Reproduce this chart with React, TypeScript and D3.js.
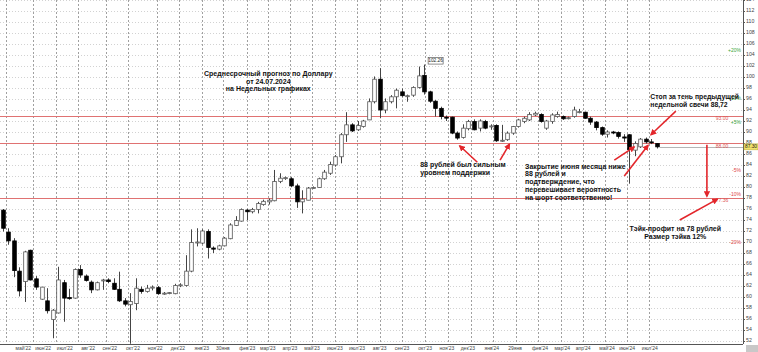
import * as d3 from "d3";

// weekly USD/RUB candles (oldest first)
const opens = [
  75.8, 71.8, 70.2, 64.7, 62.8, 68.5, 63.3, 59.6, 59.3, 55.9,
  57.1, 62.6, 59.9, 59.8, 65.0, 63.8, 62.7, 61.3, 63.0, 63.1,
  62.5, 61.4, 59.3, 58.6, 58.8, 61.4, 61.0, 61.7, 61.7, 60.6,
  60.7, 60.6, 62.1, 62.1, 64.7, 69.9, 69.8, 71.9, 68.9, 68.7,
  69.3, 70.6, 73.0, 73.8, 75.8, 75.5, 75.9, 76.8, 77.3, 77.5,
  81.0, 81.6, 81.5, 80.2, 77.3, 77.6, 79.8, 79.9, 81.5, 82.5,
  84.0, 85.5, 89.5, 91.3, 90.4, 91.0, 92.2, 95.5, 99.6, 94.0,
  95.5, 96.4, 97.3, 96.6, 96.7, 98.1, 100.3, 97.3, 95.6, 94.3,
  92.7, 92.7, 89.8, 89.0, 90.6, 91.9, 90.7, 91.9, 91.0, 91.2,
  88.4, 88.6, 89.8, 91.0, 91.9, 92.2, 93.1, 93.2, 90.7, 91.9,
  92.8, 92.8, 92.6, 92.8, 93.7, 93.6, 92.5, 91.8, 90.8, 89.6,
  90.0, 89.9, 89.1, 89.5, 86.7, 87.3, 88.7, 88.2, 87.9,
];
const highs = [
  76.0, 72.5, 70.7, 65.4, 68.4, 68.6, 63.8, 61.8, 61.6, 57.8,
  65.5, 63.1, 61.5, 65.2, 65.8, 64.1, 63.0, 62.8, 63.3, 63.4,
  63.4, 64.6, 59.8, 60.7, 63.4, 61.9, 62.2, 62.1, 62.0, 60.9,
  60.9, 62.4, 62.5, 67.6, 72.3, 72.5, 72.3, 72.3, 69.2, 69.5,
  70.9, 73.4, 74.7, 76.1, 76.0, 76.2, 77.3, 77.7, 77.9, 83.1,
  82.5, 81.9, 81.8, 80.6, 79.4, 80.0, 80.1, 81.7, 83.1, 84.6,
  85.8, 89.8, 93.6, 91.6, 92.0, 92.2, 96.1, 100.1, 101.6, 96.1,
  96.7, 97.9, 97.9, 96.8, 98.3, 101.9, 102.26, 97.5, 95.8, 94.6,
  93.0, 92.8, 90.1, 91.4, 92.2, 92.3, 92.3, 92.2, 91.4, 91.4,
  91.3, 90.1, 91.1, 92.4, 92.8, 93.6, 93.7, 93.4, 92.2, 93.4,
  93.7, 93.0, 92.8, 94.6, 94.2, 93.7, 92.8, 92.0, 91.0, 90.3,
  90.2, 90.1, 89.6, 89.6, 88.3, 88.9, 89.0, 88.72, 88.0,
];
const lows = [
  71.9, 69.5, 63.6, 60.1, 59.1, 63.0, 61.3, 59.5, 57.0, 52.5,
  57.0, 55.5, 59.5, 59.7, 63.5, 62.8, 60.7, 61.2, 61.3, 62.5,
  61.3, 59.1, 58.3, 51.5, 57.6, 60.6, 60.8, 61.2, 60.4, 60.4,
  60.5, 60.5, 61.8, 61.9, 64.5, 69.2, 69.6, 67.0, 68.0, 68.5,
  69.2, 70.5, 72.9, 73.7, 74.0, 75.2, 75.2, 76.6, 76.8, 77.4,
  80.7, 81.3, 80.0, 76.2, 75.2, 77.6, 79.7, 79.9, 81.3, 82.2,
  83.7, 84.3, 88.2, 90.0, 90.2, 90.8, 92.2, 95.2, 92.5, 93.4,
  95.2, 94.3, 96.4, 95.5, 96.4, 97.9, 96.8, 95.3, 92.8, 92.3,
  92.0, 89.6, 88.6, 88.8, 90.3, 90.3, 90.1, 90.5, 90.4, 88.2,
  88.2, 88.4, 89.5, 90.8, 91.6, 92.0, 92.9, 91.7, 90.4, 91.5,
  92.6, 92.2, 92.3, 92.6, 93.4, 92.4, 91.3, 90.3, 89.3, 89.0,
  89.6, 88.8, 88.2, 80.6, 85.6, 87.1, 87.9, 87.8, 87.0,
];
const closes = [
  72.5, 70.2, 64.8, 61.1, 68.2, 63.1, 61.8, 61.8, 57.5, 57.6,
  63.1, 59.8, 59.7, 65.0, 64.0, 63.0, 61.3, 62.6, 63.1, 62.8,
  61.4, 59.3, 58.7, 59.2, 61.6, 61.0, 61.6, 61.8, 60.6, 60.7,
  60.8, 62.1, 62.2, 64.7, 69.9, 70.0, 72.0, 69.0, 68.7, 69.3,
  70.7, 73.1, 73.9, 75.9, 75.5, 75.9, 77.0, 77.4, 77.6, 81.0,
  81.6, 81.7, 80.2, 77.3, 77.8, 79.8, 79.9, 81.5, 82.7, 84.1,
  85.5, 89.5, 91.3, 90.2, 91.2, 92.0, 95.5, 99.6, 94.0, 95.5,
  96.4, 97.6, 96.6, 96.6, 98.1, 100.2, 97.3, 95.6, 94.3, 92.8,
  92.6, 89.8, 88.9, 90.7, 91.9, 90.4, 92.0, 90.7, 91.1, 88.4,
  88.5, 89.8, 91.0, 92.2, 92.5, 93.2, 93.4, 91.9, 92.0, 93.1,
  93.2, 92.4, 92.6, 94.0, 93.7, 92.5, 91.8, 90.8, 89.6, 90.0,
  89.9, 89.2, 88.9, 86.8, 87.9, 88.7, 88.2, 88.1, 87.3,
];

// bottom axis labels and their candle positions
const timeLabels = [
  "май'22", "июн'22", "июл'22", "авг'22", "сен'22", "окт'22", "ноя'22", "дек'22",
  "янв'23", "30янв", "фев'23", "мар'23", "апр'23", "май'23", "июн'23", "июл'23",
  "авг'23", "сен'23", "окт'23", "ноя'23", "дек'23", "янв'24", "29янв", "фев'24",
  "мар'24", "апр'24", "май'24", "июн'24", "июл'24",
];
const timeLabelIdx = [
  3.7, 7.3, 11.2, 15.4, 19.3, 23.5, 27.5, 31.6, 35.9, 39.7, 44.1, 47.8, 51.8,
  55.8, 59.9, 63.9, 68.0, 72.0, 76.2, 80.1, 83.9, 88.2, 92.4, 96.9, 100.9,
  104.7, 109.0, 112.6, 116.7,
];
const gridIdx = [
  0.6, 5.5, 9.6, 13.6, 18.6, 22.6, 27.8, 31.8, 35.9, 39.7, 44.1, 47.8, 51.8,
  55.8, 59.9, 63.9, 68.0, 72.0, 76.2, 80.3, 84.4, 88.4, 92.5, 96.6, 100.6,
  104.6, 108.6, 112.6, 116.6,
];

const priceTicks = d3.range(52, 115, 2);
const redLevels = [93, 88, 78];
const levelLabels = [
  { v: 93, text: "93.00" },
  { v: 88, text: "88.00" },
];
const lastPrice = 87.3;
const pctSteps = [20, 10, 5, -5, -10, -20];
const peakIdx = 76;

// arrows in (candle index, price) space: tail -> head
const arrows = [
  { i1: 85.6, v1: 84.5, i2: 82.4, v2: 87.5 },
  { i1: 89.7, v1: 84.9, i2: 91.4, v2: 87.8 },
  { i1: 121.4, v1: 93.8, i2: 116.9, v2: 89.5 },
  { i1: 110.3, v1: 84.9, i2: 113.9, v2: 87.3 },
  { i1: 112.1, v1: 82.0, i2: 116.4, v2: 87.6 },
  { i1: 127.0, v1: 87.7, i2: 127.0, v2: 78.3 },
  { i1: 122.1, v1: 74.0, i2: 128.9, v2: 77.8 },
];

const notes = [
  { i: 47.9, v: 100.6, size: 7, anchor: "middle", lines: ["Среднесрочный прогноз по Доллару", "от 24.07.2024", "на Недельных графиках"] },
  { i: 75.3, v: 84.0, size: 7, anchor: "start", lines: ["88 рублей был сильным", "уровнем поддержки"] },
  { i: 94.2, v: 83.7, size: 7, anchor: "start", lines: ["Закрытие июня месяца ниже", "88 рублей и", "подтверждение, что", "перевешивает вероятность", "на шорт соответственно!"] },
  { i: 116.8, v: 96.4, size: 6.8, anchor: "start", lines: ["Стоп за тень предыдущей", "недельной свечи 88,72"] },
  { i: 121.3, v: 72.3, size: 7, anchor: "middle", lines: ["Тэйк-профит на 78 рублей", "Размер тэйка 12%"] },
];

const W = 758;
const H = 352;
const AXIS_X = 743;
const BOTTOM = 344;
const RED = "#e3262b";

export default function App() {
  const x = d3.scaleLinear().domain([0, 118]).range([2.7, 657]);
  const y = d3.scaleLinear().domain([114, 50]).range([0, 352]);
  const bodyW = 3.6;
  const lineH = 7.8;
  const crisp = (v: number) => Math.round(v) + 0.5;

  const candles = d3.range(opens.length).map((i) => ({
    i,
    o: opens[i],
    h: highs[i],
    l: lows[i],
    c: closes[i],
  }));

  return (
    <svg
      width={W}
      height={H}
      style={{ position: "absolute", left: 0, top: 0, background: "#fff" }}
      fontFamily="'Liberation Sans', Arial, sans-serif"
    >
      <defs>
        <marker
          id="ah"
          viewBox="0 0 10 10"
          refX="8"
          refY="5"
          markerWidth="4"
          markerHeight="4"
          orient="auto"
        >
          <path d="M0,0 L10,5 L0,10 z" fill={RED} />
        </marker>
        <clipPath id="plot">
          <rect x={0} y={0} width={AXIS_X} height={BOTTOM} />
        </clipPath>
      </defs>
      <rect width={W} height={H} fill="#fff" />

      {/* grid */}
      <g clipPath="url(#plot)">
        {priceTicks.map((v) => (
          <line key={"h" + v} x1={0} x2={AXIS_X} y1={crisp(y(v))} y2={crisp(y(v))} stroke="#d2d2d2" strokeDasharray="1,2" />
        ))}
        {gridIdx.map((g) => (
          <line key={"v" + g} x1={crisp(x(g))} x2={crisp(x(g))} y1={0} y2={BOTTOM} stroke="#a0a0a0" strokeDasharray="2,2" />
        ))}
        {redLevels.map((v) => (
          <line key={"r" + v} x1={0} x2={AXIS_X} y1={crisp(y(v))} y2={crisp(y(v))} stroke="#e07272" strokeWidth={1} />
        ))}
        <line x1={x(118) + 3} x2={AXIS_X} y1={crisp(y(lastPrice))} y2={crisp(y(lastPrice))} stroke="#b5b5b5" />

        {/* candles */}
        {candles.map((d) => {
          const up = d.c >= d.o;
          const top = y(Math.max(d.o, d.c));
          const bh = Math.max(1, Math.abs(y(d.o) - y(d.c)));
          const cx = crisp(x(d.i));
          return (
            <g key={d.i}>
              <line x1={cx} x2={cx} y1={y(d.h)} y2={y(d.l)} stroke="#444" strokeWidth={1} />
              <rect
                x={cx - bodyW / 2}
                y={top}
                width={bodyW}
                height={bh}
                fill={up ? "#fff" : "#000"}
                stroke={up ? "#555" : "#000"}
                strokeWidth={0.8}
              />
            </g>
          );
        })}
      </g>

      {/* peak label */}
      <g>
        <rect x={x(peakIdx) + 4} y={y(highs[peakIdx]) - 7} width={15} height={6.5} fill="#fff" stroke="#444" strokeWidth={0.6} />
        <text x={x(peakIdx) + 11.5} y={y(highs[peakIdx]) - 3.7} fontSize={4.8} textAnchor="middle" dominantBaseline="middle" fill="#222">
          {highs[peakIdx].toFixed(2)}
        </text>
      </g>

      {/* level labels */}
      {levelLabels.map((d) => (
        <text key={d.text} x={722} y={y(d.v) + 3.2} fontSize={5} textAnchor="middle" dominantBaseline="middle" fill="#d55">
          {d.text}
        </text>
      ))}
      <text x={722} y={y(77.6)} fontSize={5} textAnchor="middle" dominantBaseline="middle" fill="#d55">
        77.36
      </text>
      {pctSteps.map((p) => (
        <text
          key={"p" + p}
          x={741}
          y={y(lastPrice * (1 + p / 100))}
          fontSize={5}
          textAnchor="end"
          dominantBaseline="middle"
          fill={p > 0 ? "#3aa53a" : "#dd4444"}
        >
          {(p > 0 ? "+" : "") + p + "%"}
        </text>
      ))}

      {/* arrows */}
      {arrows.map((a, k) => (
        <line
          key={"a" + k}
          x1={x(a.i1)}
          y1={y(a.v1)}
          x2={x(a.i2)}
          y2={y(a.v2)}
          stroke={RED}
          strokeWidth={1.6}
          markerEnd="url(#ah)"
        />
      ))}

      {/* notes */}
      {notes.map((n, k) => (
        <text
          key={"n" + k}
          x={x(n.i)}
          y={y(n.v)}
          fontSize={n.size}
          fontWeight="bold"
          fill="#111"
          textAnchor={n.anchor}
          dominantBaseline="middle"
        >
          {n.lines.map((t, j) => (
            <tspan key={j} x={x(n.i)} dy={j === 0 ? 0 : lineH}>
              {t}
            </tspan>
          ))}
        </text>
      ))}

      {/* price axis */}
      <line x1={AXIS_X + 0.5} x2={AXIS_X + 0.5} y1={0} y2={BOTTOM} stroke="#555" />
      {priceTicks.map((v) => (
        <g key={"t" + v}>
          <line x1={AXIS_X} x2={AXIS_X + 2} y1={crisp(y(v))} y2={crisp(y(v))} stroke="#555" />
          <text x={746} y={y(v)} fontSize={5.2} dominantBaseline="middle" fill="#444">
            {v}
          </text>
        </g>
      ))}
      <rect x={AXIS_X + 1} y={y(lastPrice) - 3} width={14} height={6} fill="#f2e36b" stroke="#b7a93a" strokeWidth={0.5} />
      <text x={AXIS_X + 8} y={y(lastPrice) + 0.2} fontSize={4.8} textAnchor="middle" dominantBaseline="middle" fill="#222">
        {lastPrice.toFixed(2)}
      </text>

      {/* time axis */}
      <line x1={0} x2={AXIS_X} y1={BOTTOM + 0.5} y2={BOTTOM + 0.5} stroke="#555" />
      {timeLabels.map((t, k) => (
        <text key={"x" + k} x={x(timeLabelIdx[k])} y={348.5} fontSize={5} textAnchor="middle" dominantBaseline="middle" fill="#444">
          {t}
        </text>
      ))}
      <rect x={746} y={345} width={12} height={7} fill="#c8c8c8" />
    </svg>
  );
}
